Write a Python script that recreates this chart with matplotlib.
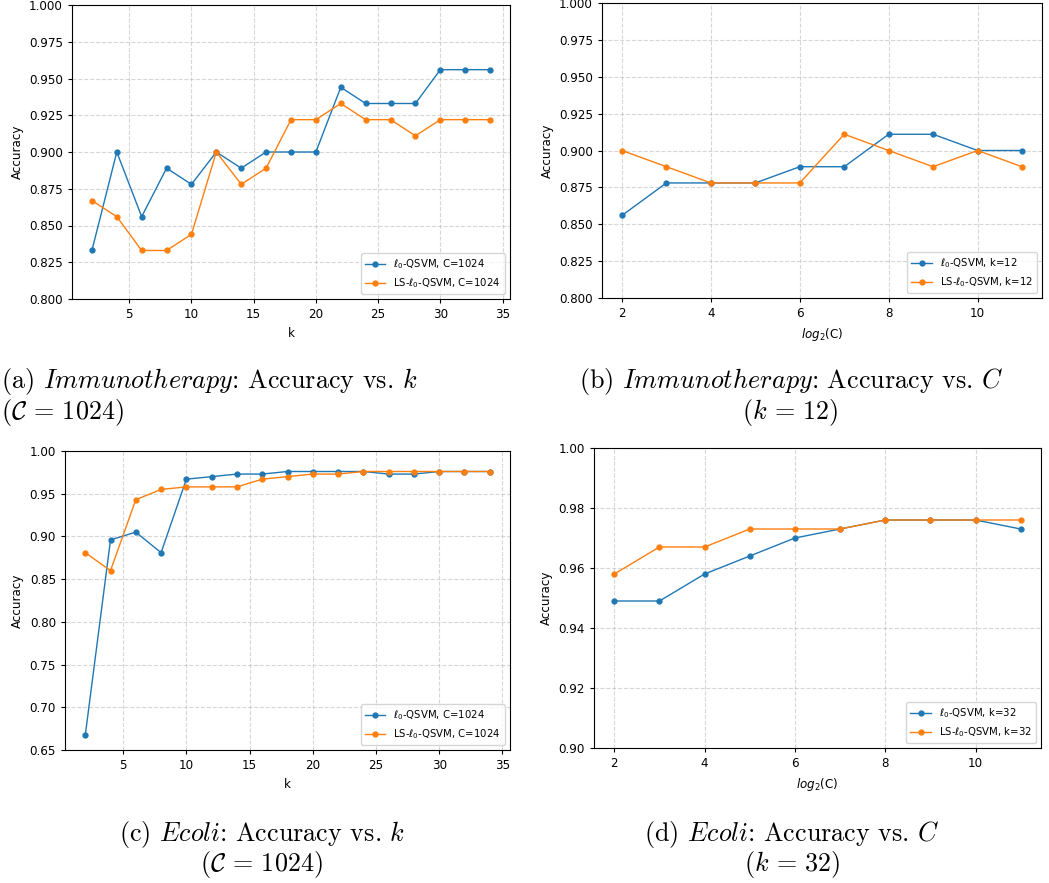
import numpy as np
import matplotlib
matplotlib.use('Agg')
import matplotlib.pyplot as plt

#%% data
k_vals = list(range(2, 35, 2))
logC_vals = list(range(2, 12))

# Immunotherapy, accuracy vs k (C=1024)
imm_k_l0 = [0.833, 0.900, 0.856, 0.889, 0.878, 0.900, 0.889, 0.900, 0.900,
            0.900, 0.944, 0.933, 0.933, 0.933, 0.956, 0.956, 0.956]
imm_k_ls = [0.867, 0.856, 0.833, 0.833, 0.844, 0.900, 0.878, 0.889, 0.922,
            0.922, 0.933, 0.922, 0.922, 0.911, 0.922, 0.922, 0.922]

# Immunotherapy, accuracy vs log2(C) (k=12)
imm_c_l0 = [0.856, 0.878, 0.878, 0.878, 0.889, 0.889, 0.911, 0.911, 0.900, 0.900]
imm_c_ls = [0.900, 0.889, 0.878, 0.878, 0.878, 0.911, 0.900, 0.889, 0.900, 0.889]

# Ecoli, accuracy vs k (C=1024)
eco_k_l0 = [0.667, 0.896, 0.905, 0.881, 0.967, 0.970, 0.973, 0.973, 0.976,
            0.976, 0.976, 0.976, 0.973, 0.973, 0.976, 0.976, 0.976]
eco_k_ls = [0.881, 0.860, 0.943, 0.955, 0.958, 0.958, 0.958, 0.967, 0.970,
            0.973, 0.973, 0.976, 0.976, 0.976, 0.976, 0.976, 0.976]

# Ecoli, accuracy vs log2(C) (k=32)
eco_c_l0 = [0.949, 0.949, 0.958, 0.964, 0.970, 0.973, 0.976, 0.976, 0.976, 0.973]
eco_c_ls = [0.958, 0.967, 0.967, 0.973, 0.973, 0.973, 0.976, 0.976, 0.976, 0.976]

#%% figure
dpi = 100
width, height = 1049, 883
fig = plt.figure(figsize=(width/dpi, height/dpi), dpi=dpi)

def px_axes(l, t, r, b):
    return fig.add_axes([l/width, 1 - b/height, (r - l)/width, (b - t)/height])

ax_a = px_axes(72, 5, 510, 299)
ax_b = px_axes(602, 3, 1042, 298)
ax_c = px_axes(65, 451, 510, 750)
ax_d = px_axes(594, 448, 1041, 748)

panels = [
    (ax_a, k_vals, imm_k_l0, imm_k_ls, 'C=1024', 'k', (0.8, 1.0)),
    (ax_b, logC_vals, imm_c_l0, imm_c_ls, 'k=12', r'$log_2$(C)', (0.8, 1.0)),
    (ax_c, k_vals, eco_k_l0, eco_k_ls, 'C=1024', 'k', (0.65, 1.0)),
    (ax_d, logC_vals, eco_c_l0, eco_c_ls, 'k=32', r'$log_2$(C)', (0.9, 1.0)),
]

fs = 8.6
for ax, x, y1, y2, tag, xlab, ylim in panels:
    ax.plot(x, y1, marker='o', ms=3.5, lw=1.0, color='#1f77b4',
            label=r'$\ell_0$-QSVM, ' + tag)
    ax.plot(x, y2, marker='o', ms=3.5, lw=1.0, color='#ff7f0e',
            label=r'LS-$\ell_0$-QSVM, ' + tag)
    ax.set_ylim(ylim)
    ax.set_xlabel(xlab, fontsize=fs)
    ax.set_ylabel('Accuracy', fontsize=fs)
    ax.tick_params(labelsize=fs, width=0.8, length=3)
    ax.grid(True, linestyle='--', alpha=0.5)
    ax.legend(loc='lower right', fontsize=7.3)

#%% captions (Computer Modern look)
cap = dict(fontsize=18.8, family='cmr10', math_fontfamily='cm', va='center')
fig.text(1/width, 1 - 382/height,
         r'(a) $\mathit{Immunotherapy}$: Accuracy vs. $k$', ha='left', **cap)
fig.text(1/width, 1 - 412/height, r'($\mathcal{C}\,=\,1024$)', ha='left', **cap)
fig.text(791/width, 1 - 382/height,
         r'(b) $\mathit{Immunotherapy}$: Accuracy vs. $C$', ha='center', **cap)
fig.text(790/width, 1 - 412/height, r'($k\,=\,12$)', ha='center', **cap)
fig.text(262/width, 1 - 835/height,
         r'(c) $\mathit{Ecoli}$: Accuracy vs. $k$', ha='center', **cap)
fig.text(261/width, 1 - 864/height, r'($\mathcal{C}\,=\,1024$)', ha='center', **cap)
fig.text(792/width, 1 - 835/height,
         r'(d) $\mathit{Ecoli}$: Accuracy vs. $C$', ha='center', **cap)
fig.text(792/width, 1 - 864/height, r'($k\,=\,32$)', ha='center', **cap)

plt.savefig('out.png', dpi=dpi)
